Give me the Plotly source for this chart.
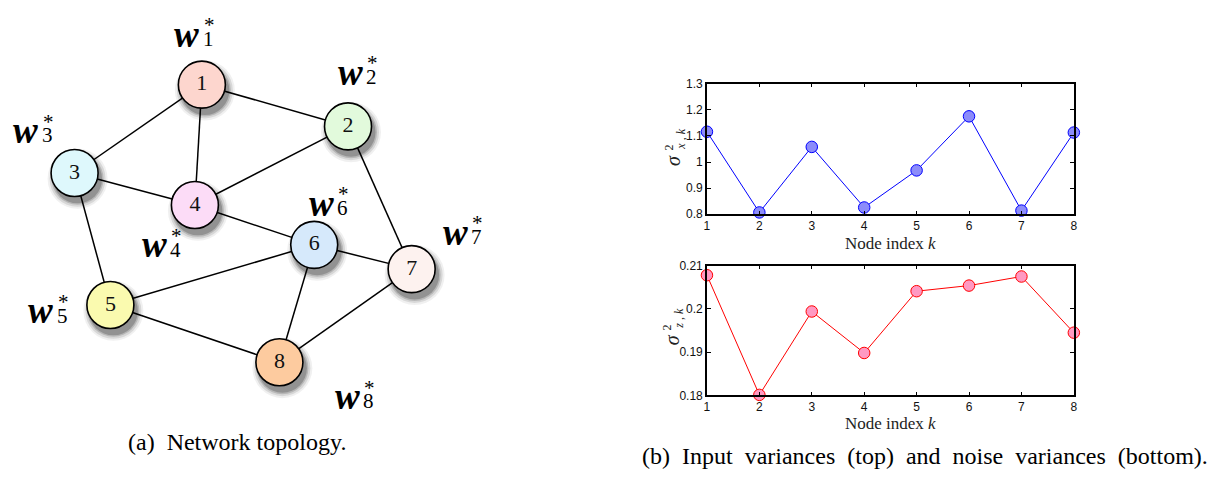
import plotly.graph_objects as go

W, H = 1224, 479

# ---------------- data ----------------
nodes = [1, 2, 3, 4, 5, 6, 7, 8]
node_x = [200, 347, 72, 193, 108, 313, 411, 278]
node_y = [80, 123, 171, 204, 307, 245, 270, 366]
node_colors = ["#FDD6CE", "#E2FADC", "#DEF8FC", "#FCDCF7",
               "#FAFAAF", "#D6E9FB", "#FDF2EF", "#FDCB9F"]
edges = [(1, 2), (1, 3), (1, 4), (2, 4), (2, 7), (3, 4), (3, 5),
         (4, 6), (5, 6), (5, 8), (6, 7), (6, 8), (7, 8)]
wlabel_x = [185, 349, 23, 152, 38, 320, 455, 346]
wlabel_y = [28, 67, 127, 245, 313, 202, 232, 401]

node_index = [1, 2, 3, 4, 5, 6, 7, 8]
sigma_x2 = [1.116, 0.807, 1.058, 0.826, 0.968, 1.175, 0.814, 1.113]
sigma_z2 = [0.2078, 0.1801, 0.1994, 0.1898, 0.2041, 0.2054, 0.2075, 0.1945]

top_ticks = [0.8, 0.9, 1.0, 1.1, 1.2, 1.3]
top_ticktext = ["0.8", "0.9", "1", "1.1", "1.2", "1.3"]
bot_ticks = [0.18, 0.19, 0.20, 0.21]
bot_ticktext = ["0.18", "0.19", "0.2", "0.21"]


def px(x, y):
    return x / W, 1 - y / H


fig = go.Figure()

# ---------------- network ----------------
ex, ey = [], []
for a, b in edges:
    ex += [node_x[a - 1], node_x[b - 1], None]
    ey += [node_y[a - 1], node_y[b - 1], None]
fig.add_trace(go.Scatter(x=ex, y=ey, mode="lines", xaxis="x3", yaxis="y3",
                         line=dict(color="black", width=1.5), hoverinfo="skip",
                         showlegend=False))
# soft shadows
for size, op in [(60, 0.06), (56, 0.10), (52, 0.15), (49, 0.20)]:
    fig.add_trace(go.Scatter(x=[v + 3 for v in node_x], y=[v + 6 for v in node_y],
                             mode="markers", xaxis="x3", yaxis="y3",
                             marker=dict(size=size, color="black", opacity=op,
                                         line=dict(width=0)),
                             hoverinfo="skip", showlegend=False))
fig.add_trace(go.Scatter(x=node_x, y=node_y, mode="markers+text", xaxis="x3", yaxis="y3",
                         text=[str(n) for n in nodes], textposition="middle center",
                         textfont=dict(family="Liberation Serif", size=22, color="#111"),
                         marker=dict(size=47, color=node_colors,
                                     line=dict(color="black", width=1.6)),
                         hoverinfo="skip", showlegend=False))

annotations = []
for n, lx, ly in zip(nodes, wlabel_x, wlabel_y):
    x0, y0 = px(lx, ly)
    annotations.append(dict(x=x0, y=y0, xref="paper", yref="paper", text="<b><i>w</i></b>",
                            showarrow=False, xanchor="center", yanchor="middle",
                            font=dict(family="Liberation Serif", size=37, color="black")))
    x1, y1 = px(lx + 15, ly - 9)
    annotations.append(dict(x=x1, y=y1, xref="paper", yref="paper", text="*",
                            showarrow=False, xanchor="left", yanchor="middle",
                            font=dict(family="Liberation Serif", size=21, color="black")))
    x2, y2 = px(lx + 14, ly + 5)
    annotations.append(dict(x=x2, y=y2, xref="paper", yref="paper", text=str(n),
                            showarrow=False, xanchor="left", yanchor="middle",
                            font=dict(family="Liberation Serif", size=21, color="black")))

# ---------------- line charts ----------------
fig.add_trace(go.Scatter(x=node_index, y=sigma_x2, mode="lines+markers", xaxis="x", yaxis="y",
                         line=dict(color="#0000FF", width=1),
                         marker=dict(size=11.5, color="#8C8CFA", line=dict(color="#0000FF", width=1)),
                         cliponaxis=False, showlegend=False))
fig.add_trace(go.Scatter(x=node_index, y=sigma_z2, mode="lines+markers", xaxis="x2", yaxis="y2",
                         line=dict(color="#FF0000", width=1),
                         marker=dict(size=11.5, color="#FF99C2", line=dict(color="#FF0000", width=1)),
                         cliponaxis=False, showlegend=False))

ax_common = dict(showline=True, linecolor="black", linewidth=1.5, mirror="allticks",
                 ticks="inside", ticklen=4, tickwidth=1, tickcolor="black",
                 showgrid=False, zeroline=False,
                 tickfont=dict(family="Liberation Sans", size=12, color="#111"))

x_dom = [708 / W, 1077 / W]
top_dom = [1 - 213.5 / H, 1 - 79 / H]
bot_dom = [1 - 400 / H, 1 - 266.5 / H]

fig.update_layout(
    width=W, height=H, margin=dict(l=0, r=0, t=0, b=0),
    paper_bgcolor="white", plot_bgcolor="rgba(0,0,0,0)",
    xaxis=dict(domain=x_dom, anchor="y", range=[1, 8], tickvals=node_index, **ax_common),
    yaxis=dict(domain=top_dom, anchor="x", range=[0.8, 1.3], tickvals=top_ticks,
               ticktext=top_ticktext, **ax_common),
    xaxis2=dict(domain=x_dom, anchor="y2", range=[1, 8], tickvals=node_index, **ax_common),
    yaxis2=dict(domain=bot_dom, anchor="x2", range=[0.18, 0.21], tickvals=bot_ticks,
                ticktext=bot_ticktext, **ax_common),
    xaxis3=dict(domain=[0, 0.4], anchor="y3", range=[0, 0.4 * W], visible=False, fixedrange=True),
    yaxis3=dict(domain=[0, 1], anchor="x3", range=[H, 0], visible=False, fixedrange=True),
)

# axis titles
for cy in [244, 429]:
    x0, y0 = px(893, cy)
    annotations.append(dict(x=x0, y=y0, xref="paper", yref="paper", text="Node index <i>k</i>",
                            showarrow=False, xanchor="center", yanchor="middle",
                            font=dict(family="Liberation Serif", size=17, color="#222")))

for (sx, sy, sub) in [(674.5, 158, "<i>x</i> , <i>k</i>"), (673, 343, "<i>z</i> , <i>k</i>")]:
    for dx, dy, t, fs in [(0, 0, "<i>σ</i>", 20), (-5, -13, "2", 12), (7, -22, sub, 12)]:
        x0, y0 = px(sx + dx, sy + dy)
        annotations.append(dict(x=x0, y=y0, xref="paper", yref="paper", text=t, textangle=-90,
                                showarrow=False, xanchor="center", yanchor="middle",
                                font=dict(family="Liberation Serif", size=fs, color="#222")))

# captions
x0, y0 = px(235, 448)
annotations.append(dict(x=x0, y=y0, xref="paper", yref="paper",
                        text="(a)\u2002Network topology.", showarrow=False,
                        xanchor="center", yanchor="middle",
                        font=dict(family="Liberation Serif", size=24, color="black")))
x0, y0 = px(927, 463)
annotations.append(dict(x=x0, y=y0, xref="paper", yref="paper",
                        text="(b)\u2002Input\u2002variances\u2002(top)\u2002and\u2002noise\u2002variances\u2002(bottom).",
                        showarrow=False, xanchor="center", yanchor="middle",
                        font=dict(family="Liberation Serif", size=24, color="black")))

fig.update_layout(annotations=annotations)
fig.write_html("out.html")
